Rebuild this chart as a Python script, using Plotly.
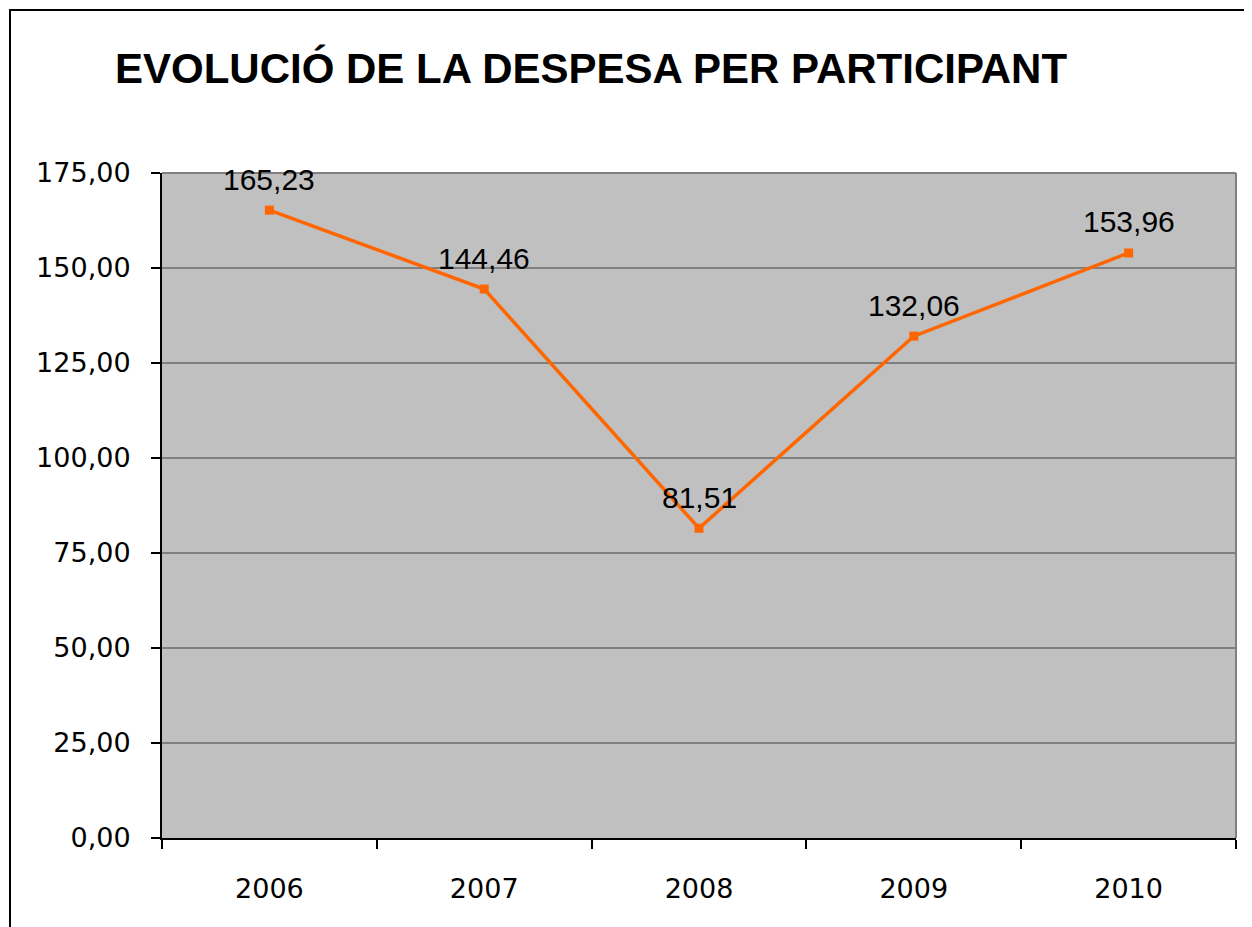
import plotly.graph_objects as go

# Data
years = ["2006", "2007", "2008", "2009", "2010"]
despesa = [165.23, 144.46, 81.51, 132.06, 153.96]

orange = "#FF6600"

fig = go.Figure()
fig.add_scatter(x=years, y=despesa, mode="lines+markers",
                line=dict(color=orange, width=3.5),
                marker=dict(symbol="square", size=9, color=orange),
                showlegend=False, hoverinfo="skip")

# data labels above each point (category index, since "2006" would be read as a number)
for i, v in enumerate(despesa):
    fig.add_annotation(x=i, y=v, text=f"{v:.2f}".replace(".", ","),
                       showarrow=False, yshift=31,
                       font=dict(family="Liberation Sans, Arial", size=30, color="black"))

fig.update_layout(
    width=1252, height=927,
    margin=dict(l=154, r=24, t=165, b=97),
    paper_bgcolor="white", plot_bgcolor="#C0C0C0",
    separators=",.",
    title=dict(text="<b>EVOLUCIÓ DE LA DESPESA PER PARTICIPANT</b>",
               x=0.4657, xanchor="center", y=0.935, yanchor="middle",
               font=dict(family="Liberation Sans, Arial", size=42, color="black")),
)

fig.update_xaxes(type="category", range=[-0.5, len(years) - 0.5],
                 tickson="boundaries", ticks="outside",
                 ticklen=9, tickwidth=2, tickcolor="black",
                 showline=True, linecolor="black", linewidth=2,
                 showgrid=False, ticklabelstandoff=26, automargin=False,
                 tickangle=0,
                 tickfont=dict(family="DejaVu Sans, Verdana", size=27, color="black"))

fig.update_yaxes(range=[0, 175], dtick=25, tickformat=".2f",
                 ticks="outside", ticklen=9, tickwidth=2, tickcolor="black",
                 showline=True, linecolor="black", linewidth=2,
                 showgrid=True, gridcolor="#808080", gridwidth=2,
                 zeroline=False, ticklabelstandoff=15, automargin=False,
                 tickfont=dict(family="DejaVu Sans, Verdana", size=27, color="black"))

# gray top and right border of the plot area
fig.add_shape(type="line", xref="paper", yref="paper", x0=0, x1=1, y0=1, y1=1,
              line=dict(color="#808080", width=2))
fig.add_shape(type="line", xref="paper", yref="paper", x0=1, x1=1, y0=0, y1=1,
              line=dict(color="#808080", width=2))

# outer chart frame (runs off the bottom of the picture)
fig.add_shape(type="rect", xref="paper", yref="paper",
              x0=(2 - 154) / 1074, x1=(1237 - 154) / 1074,
              y0=-0.2, y1=1 + (165 - 2) / 665,
              line=dict(color="black", width=2), layer="below")

fig.write_html("out.html")
